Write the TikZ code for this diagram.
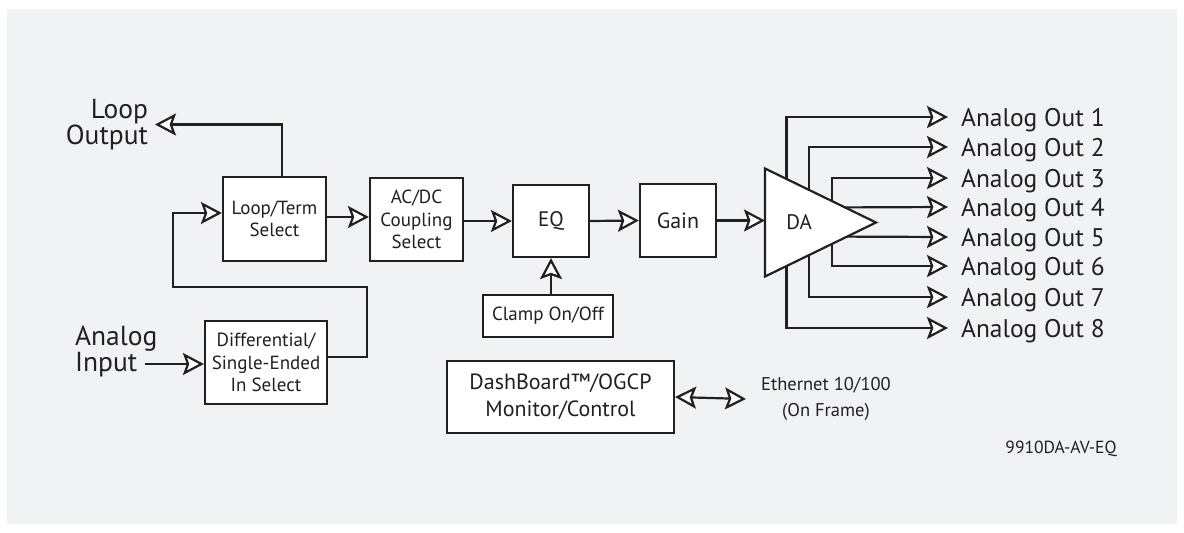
\documentclass[tikz,border=0pt]{standalone}
\usepackage{fontspec}
\setmainfont{PT Sans}
\usetikzlibrary{arrows.meta,shapes.geometric,positioning,calc}
\definecolor{panel}{HTML}{F1F2F4}
\definecolor{ink}{HTML}{231F20}

\begin{document}
\begin{tikzpicture}
[x=1pt,y=-1pt,line width=2.2pt,color=ink,
 block/.style={draw=ink,fill=white,line width=2.2pt,inner sep=0pt,align=center,font=\fontsize{19}{22.5}\selectfont},
 bigblock/.style={block,font=\fontsize{22}{27}\selectfont},
 arr/.style={-{Stealth[open,fill=white,length=21pt,width=22pt,inset=4pt]}},
 arrboth/.style={{Stealth[open,fill=white,length=21pt,width=22pt,inset=4pt]}-{Stealth[open,fill=white,length=21pt,width=22pt,inset=4pt]}},
 tag/.style={inner sep=0pt,text=ink,font=\fontsize{27.5}{24}\selectfont},
 outtag/.style={anchor=west,inner xsep=12pt,inner ysep=0pt,text height=18pt,text depth=0pt,text=ink,font=\fontsize{25.5}{26}\selectfont}]

% the panel
\useasboundingbox (0,0) rectangle (1184,533);
\fill[panel] (7,9) rectangle (1177,524);

% the blocks
\node[block,minimum width=103pt,minimum height=84pt] (loopterm) at (274.5,219) {Loop/Term\\Select};
\node[block,minimum width=93pt,minimum height=83pt] (acdc) at (416.5,219.5) {AC/DC\\Coupling\\Select};
\node[bigblock,font=\fontsize{21}{24}\selectfont,minimum width=76pt,minimum height=72pt] (eq) at (551,221) {EQ};
\node[bigblock,minimum width=76pt,minimum height=73pt] (gain) at (678,220.5) {Gain};
\node[block,font=\fontsize{19}{24}\selectfont,minimum width=130pt,minimum height=42pt] (clamp) at (548,316) {Clamp On/Off};
\node[block,minimum width=122pt,minimum height=83pt] (diff) at (266,362.5) {Differential/\\Single-Ended\\In Select};
\node[bigblock,minimum width=227pt,minimum height=72pt] (dash) at (560.5,397) {DashBoard™/OGCP\\Monitor/Control};
\node[draw=ink,fill=white,line width=2.2pt,isosceles triangle,isosceles triangle stretches,
      minimum width=108pt,minimum height=111pt,inner sep=0pt,outer sep=0pt,anchor=lower side,
      font=\fontsize{21}{24}\selectfont] (DA) at (765,222.5) {DA};

% the labels
\node[tag,align=right,anchor=north east,inner xsep=6pt,font=\fontsize{27.5}{25}\selectfont] (loopout) at (155,98) {Loop\\Output};
\node[tag,align=left,anchor=north west] (ain) at (74,325) {Analog\\Input};
\node[tag,align=center,anchor=west,inner xsep=14pt,font=\fontsize{18.5}{26}\selectfont] (eth) at (746,399) {Ethernet 10/100\\(On Frame)};
\node[tag,font=\fontsize{17.5}{17.5}\selectfont] (code) at (1061,449) {9910DA-AV-EQ};
\node[outtag] (out1) at (948,117) {Analog Out 1};
\node[outtag] (out2) at (948,147) {Analog Out 2};
\node[outtag] (out3) at (948,178) {Analog Out 3};
\node[outtag] (out4) at (948,207) {Analog Out 4};
\node[outtag] (out5) at (948,237) {Analog Out 5};
\node[outtag] (out6) at (948,266) {Analog Out 6};
\node[outtag] (out7) at (948,297) {Analog Out 7};
\node[outtag] (out8) at (948,328) {Analog Out 8};

% the free ends
\coordinate (ain end) at (145,364);

% the signal path
\draw[arr] (ain end) -- (diff.west |- ain end);
\draw[arr] ([yshift=5.5pt]diff.east) -- ++(39,0) |- (173,287) |- ([yshift=6pt]loopterm.west);
\draw[arr] ([xshift=7.5pt]loopterm.north) |- (loopout.east);
\draw[arr] ([yshift=2pt]loopterm.east) -- ([yshift=2pt]loopterm.east -| acdc.west);
\draw[arr] (acdc.east |- eq.west) -- (eq.west);
\draw[arr] (eq.east) -- (gain.west);
\draw[arr] (gain.east) -- (gain.east -| DA.lower side);
\draw[arr] (clamp.north -| eq.south) -- (eq.south);
\draw[arrboth] (dash.east) -- (eth.west);

% the outputs of the DA
\draw[arr] ($(DA.left corner)!0.194!(DA.apex)$) |- (out1.west);
\draw[arr] ($(DA.left corner)!0.398!(DA.apex)$) |- (out2.west);
\draw[arr] ($(DA.left corner)!0.6!(DA.apex)$) |- (out3.west);
\draw[arr] ($(DA.left corner)!0.7207!(DA.apex)$) -- (out4.west);
\draw[arr] ($(DA.right corner)!0.7387!(DA.apex)$) -- (out5.west);
\draw[arr] ($(DA.right corner)!0.6!(DA.apex)$) |- (out6.west);
\draw[arr] ($(DA.right corner)!0.398!(DA.apex)$) |- (out7.west);
\draw[arr] ($(DA.right corner)!0.194!(DA.apex)$) |- (out8.west);

\end{tikzpicture}
\end{document}
